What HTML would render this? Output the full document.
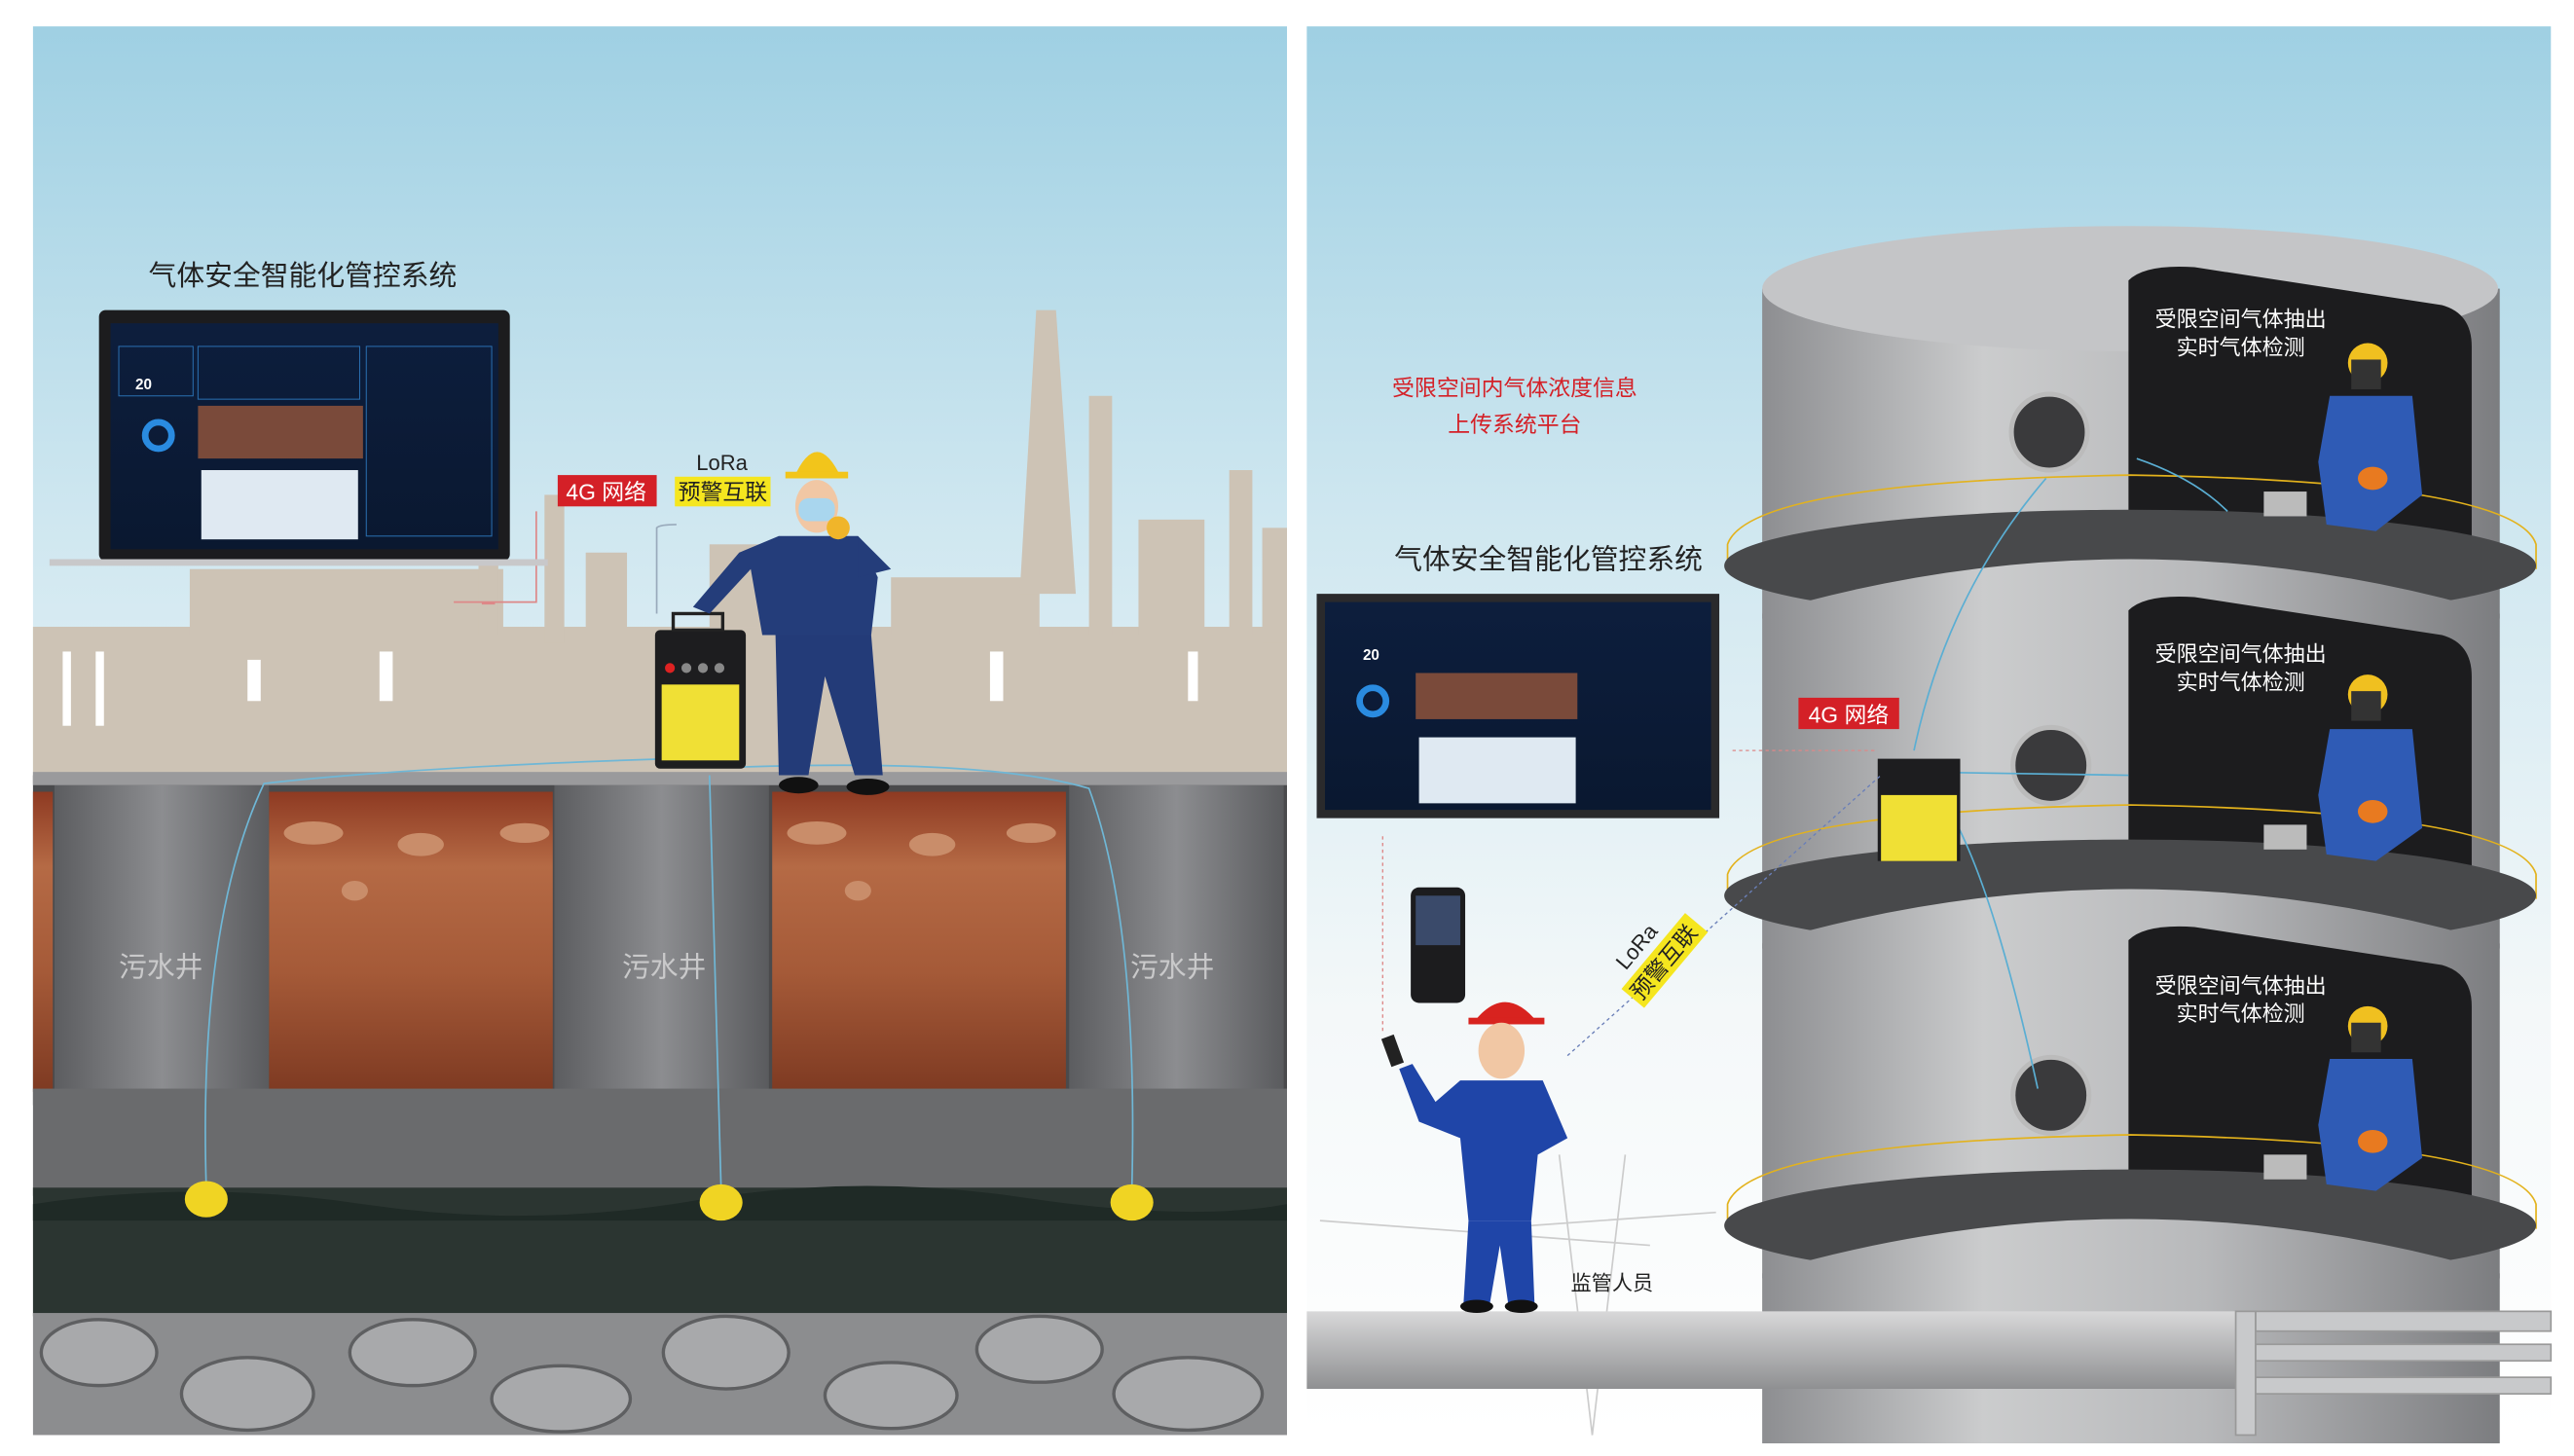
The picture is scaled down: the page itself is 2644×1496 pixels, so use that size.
<!DOCTYPE html>
<html><head><meta charset="utf-8"><style>html,body{margin:0;padding:0;background:#fff}svg{display:block}text{font-family:"Liberation Sans","Noto Sans CJK SC",sans-serif}</style></head>
<body>
<svg width="2644" height="1496" viewBox="0 0 1560 882.7" preserveAspectRatio="none" xmlns="http://www.w3.org/2000/svg">
<defs>
<linearGradient id="sky" x1="0" y1="0" x2="0" y2="1"><stop offset="0" stop-color="#9fd0e3"/><stop offset="0.35" stop-color="#cfe7f0"/><stop offset="0.7" stop-color="#f4f8f9"/><stop offset="1" stop-color="#fff"/></linearGradient>
<linearGradient id="soil" x1="0" y1="0" x2="0" y2="1"><stop offset="0" stop-color="#8e3a22"/><stop offset="0.25" stop-color="#b56a45"/><stop offset="0.6" stop-color="#a55a38"/><stop offset="1" stop-color="#7e3a22"/></linearGradient>
<linearGradient id="well" x1="0" y1="0" x2="1" y2="0"><stop offset="0" stop-color="#5c5d60"/><stop offset="0.5" stop-color="#8c8d90"/><stop offset="1" stop-color="#5a5b5e"/></linearGradient>
<linearGradient id="tower" x1="0" y1="0" x2="1" y2="0"><stop offset="0" stop-color="#8d8e91"/><stop offset="0.3" stop-color="#cbcccd"/><stop offset="0.6" stop-color="#b8b9bb"/><stop offset="1" stop-color="#7c7d80"/></linearGradient>
<linearGradient id="plat" x1="0" y1="0" x2="0" y2="1"><stop offset="0" stop-color="#d8d8d9"/><stop offset="1" stop-color="#8f9092"/></linearGradient>
<linearGradient id="scr" x1="0" y1="0" x2="0" y2="1"><stop offset="0" stop-color="#0d1e3d"/><stop offset="1" stop-color="#0a1830"/></linearGradient>
</defs>
<rect width="1560" height="883" fill="#fff"/>
<!-- LEFT PANEL -->
<rect x="20" y="16" width="760" height="854" fill="url(#sky)"/>
<g fill="#cdc3b5">
<rect x="20" y="380" width="760" height="95"/>
<rect x="115" y="345" width="190" height="40"/>
<rect x="330" y="300" width="12" height="90"/><rect x="355" y="335" width="25" height="50"/>
<rect x="430" y="330" width="70" height="50"/><rect x="540" y="350" width="90" height="35"/>
<polygon points="618,360 628,188 640,188 652,360"/>
<rect x="660" y="240" width="14" height="145"/><rect x="690" y="315" width="40" height="70"/>
<rect x="745" y="285" width="14" height="100"/><rect x="765" y="320" width="15" height="70"/>
<rect x="290" y="285" width="12" height="100"/>
</g>
<g fill="#fff"><rect x="38" y="395" width="5" height="45"/><rect x="58" y="395" width="5" height="45"/><rect x="150" y="400" width="8" height="25"/><rect x="230" y="395" width="8" height="30"/><rect x="600" y="395" width="8" height="30"/><rect x="720" y="395" width="6" height="30"/></g>
<rect x="20" y="470" width="760" height="200" fill="#4a4a4c"/>
<rect x="163" y="480" width="172" height="182" fill="url(#soil)"/>
<rect x="468" y="480" width="178" height="182" fill="url(#soil)"/>
<rect x="20" y="480" width="12" height="182" fill="url(#soil)"/>
<rect x="33" y="476" width="130" height="200" fill="url(#well)"/>
<rect x="336" y="476" width="130" height="200" fill="url(#well)"/>
<rect x="648" y="476" width="130" height="200" fill="url(#well)"/>
<rect x="20" y="468" width="760" height="8" fill="#9a9a9c"/>
<g fill="#c98d6a"><ellipse cx="190" cy="505" rx="18" ry="7"/><ellipse cx="255" cy="512" rx="14" ry="7"/><ellipse cx="318" cy="505" rx="15" ry="6"/><ellipse cx="495" cy="505" rx="18" ry="7"/><ellipse cx="565" cy="512" rx="14" ry="7"/><ellipse cx="625" cy="505" rx="15" ry="6"/><ellipse cx="215" cy="540" rx="8" ry="6"/><ellipse cx="520" cy="540" rx="8" ry="6"/></g>
<rect x="20" y="660" width="760" height="65" fill="#6a6b6d"/>
<rect x="20" y="720" width="760" height="78" fill="#2b3531"/>
<path d="M20 730 Q120 715 220 730 T420 728 T620 726 T780 730 L780 740 L20 740Z" fill="#1f2a26"/>
<rect x="20" y="796" width="760" height="74" fill="#8c8d8f"/>
<g fill="#a8a9ab" stroke="#5e5f61" stroke-width="2"><ellipse cx="60" cy="820" rx="35" ry="20"/><ellipse cx="150" cy="845" rx="40" ry="22"/><ellipse cx="250" cy="820" rx="38" ry="20"/><ellipse cx="340" cy="848" rx="42" ry="20"/><ellipse cx="440" cy="820" rx="38" ry="22"/><ellipse cx="540" cy="846" rx="40" ry="20"/><ellipse cx="630" cy="818" rx="38" ry="20"/><ellipse cx="720" cy="845" rx="45" ry="22"/></g>
<g fill="#c9c9ca" font-size="17"><text x="72" y="592">污水井</text><text x="377" y="592">污水井</text><text x="685" y="592">污水井</text></g>
<g fill="none" stroke="#6fb7d6" stroke-width="1"><path d="M405 460 Q250 465 160 475 Q120 560 125 720"/><path d="M430 470 L437 720"/><path d="M450 465 Q600 460 660 478 Q690 560 686 720"/><path d="M275 365 L325 365 L325 310 M300 366 L292 366" stroke="#d88"/><path d="M398 372 L398 320 Q400 318 410 318" stroke="#9ab"/></g>
<g fill="#f0d423"><ellipse cx="125" cy="727" rx="13" ry="11"/><ellipse cx="437" cy="729" rx="13" ry="11"/><ellipse cx="686" cy="729" rx="13" ry="11"/></g>
<rect x="60" y="188" width="249" height="152" rx="4" fill="#1c1c1e"/>
<rect x="67" y="196" width="235" height="137" fill="url(#scr)"/>
<rect x="30" y="339" width="302" height="4" fill="#c8c8ca"/>
<text x="82" y="236" font-size="9" fill="#fff" font-weight="bold">20</text>
<circle cx="96" cy="264" r="8" fill="none" stroke="#2a8be0" stroke-width="4"/>
<rect x="120" y="246" width="100" height="32" fill="#7a4a3a"/>
<rect x="122" y="285" width="95" height="42" fill="#dfe9f2"/>
<g stroke="#2a6fb0" stroke-width="0.6" fill="none"><rect x="72" y="210" width="45" height="30"/><rect x="120" y="210" width="98" height="32"/><rect x="222" y="210" width="76" height="115"/></g>
<text x="90" y="173" font-size="17" fill="#222">气体安全智能化管控系统</text>
<rect x="338" y="288" width="60" height="19" fill="#d42027"/><text x="343" y="303" font-size="13.5" fill="#fff">4G 网络</text>
<text x="422" y="285" font-size="13" fill="#222">LoRa</text>
<rect x="409" y="289" width="58" height="18" fill="#f5e61f"/><text x="411" y="303" font-size="13.5" fill="#222">预警互联</text>
<rect x="397" y="382" width="55" height="84" rx="3" fill="#1d1d1f"/><rect x="401" y="415" width="47" height="46" fill="#f0e035"/>
<rect x="408" y="372" width="30" height="10" fill="none" stroke="#222" stroke-width="2"/>
<circle cx="406" cy="405" r="3" fill="#d22"/><circle cx="416" cy="405" r="3" fill="#888"/><circle cx="426" cy="405" r="3" fill="#888"/><circle cx="436" cy="405" r="3" fill="#888"/>
<path d="M481 290 Q495 258 510 290Z" fill="#f2c51b"/><rect x="476" y="286" width="38" height="4" fill="#f2c51b"/>
<ellipse cx="495" cy="307" rx="13" ry="16" fill="#f1c7a4"/><rect x="484" y="302" width="22" height="14" rx="6" fill="#a9d6ee"/>
<path d="M472 325 L520 325 L532 350 L528 385 L462 385 L455 345 L430 372 L420 368 L448 335Z" fill="#243d7a"/>
<path d="M520 325 L540 345 L520 350Z" fill="#243d7a"/><circle cx="508" cy="320" r="7" fill="#f0b52a"/>
<path d="M470 385 L528 385 L535 470 L518 470 L500 410 L490 470 L472 470Z" fill="#233b78"/>
<ellipse cx="484" cy="476" rx="12" ry="5" fill="#111"/><ellipse cx="526" cy="477" rx="13" ry="5" fill="#111"/>
<!-- RIGHT PANEL -->
<rect x="792" y="16" width="754" height="854" fill="url(#sky)"/>
<g stroke="#ccc" stroke-width="1" fill="none"><path d="M945 700 L965 870 M985 700 L965 870 M900 745 L1040 735 M800 740 L1000 755"/></g>
<!-- tier 1 -->
<rect x="1068" y="175" width="447" height="200" fill="url(#tower)"/>
<ellipse cx="1291" cy="175" rx="223" ry="38" fill="#c4c5c7"/>
<path d="M1290 170 Q1300 160 1330 162 L1480 185 Q1498 190 1498 210 L1498 345 L1290 345Z" fill="#1c1c1e"/>
<circle cx="1242" cy="262" r="23" fill="#3a3a3c" stroke="#bbb" stroke-width="3"/>
<g fill="none" stroke="#e3b21c" stroke-width="1"><path d="M1047 345 L1047 330 Q1060 292 1291 288 Q1525 292 1537 330 L1537 345"/></g>
<ellipse cx="1291" cy="343" rx="246" ry="34" fill="#48494b"/>
<!-- tier 2 -->
<path d="M1068 372 Q1291 306 1515 372 L1515 575 L1068 575Z" fill="url(#tower)"/>
<path d="M1290 370 Q1300 360 1330 362 L1480 385 Q1498 390 1498 410 L1498 545 L1290 545Z" fill="#1c1c1e"/>
<circle cx="1243" cy="464" r="23" fill="#3a3a3c" stroke="#bbb" stroke-width="3"/>
<g fill="none" stroke="#e3b21c" stroke-width="1"><path d="M1047 545 L1047 530 Q1060 492 1291 488 Q1525 492 1537 530 L1537 545"/></g>
<ellipse cx="1291" cy="543" rx="246" ry="34" fill="#48494b"/>
<!-- tier 3 -->
<path d="M1068 572 Q1291 506 1515 572 L1515 775 L1068 775Z" fill="url(#tower)"/>
<path d="M1290 570 Q1300 560 1330 562 L1480 585 Q1498 590 1498 610 L1498 745 L1290 745Z" fill="#1c1c1e"/>
<circle cx="1243" cy="664" r="23" fill="#3a3a3c" stroke="#bbb" stroke-width="3"/>
<g fill="none" stroke="#e3b21c" stroke-width="1"><path d="M1047 745 L1047 730 Q1060 692 1291 688 Q1525 692 1537 730 L1537 745"/></g>
<ellipse cx="1291" cy="743" rx="246" ry="34" fill="#48494b"/>
<!-- tier 4 -->
<path d="M1068 772 Q1291 706 1515 772 L1515 875 L1068 875Z" fill="url(#tower)"/>
<!-- texts & welders -->
<g font-size="13" fill="#fff" text-anchor="middle">
<text x="1358" y="198">受限空间气体抽出</text><text x="1358" y="215">实时气体检测</text>
<text x="1358" y="401">受限空间气体抽出</text><text x="1358" y="418">实时气体检测</text>
<text x="1358" y="602">受限空间气体抽出</text><text x="1358" y="619">实时气体检测</text>
</g>
<g fill="#2f5bb5"><path d="M1412 240 L1462 240 L1468 300 L1440 322 L1410 318 L1405 280Z"/><path d="M1412 442 L1462 442 L1468 502 L1440 522 L1410 518 L1405 482Z"/><path d="M1412 642 L1462 642 L1468 702 L1440 722 L1410 718 L1405 682Z"/></g>
<g fill="#e87a20"><ellipse cx="1438" cy="290" rx="9" ry="7"/><ellipse cx="1438" cy="492" rx="9" ry="7"/><ellipse cx="1438" cy="692" rx="9" ry="7"/></g>
<g fill="#f0c020"><circle cx="1435" cy="220" r="12"/><circle cx="1435" cy="421" r="12"/><circle cx="1435" cy="622" r="12"/></g>
<g fill="#333"><rect x="1425" y="218" width="18" height="18"/><rect x="1425" y="419" width="18" height="18"/><rect x="1425" y="620" width="18" height="18"/></g>
<g fill="#bbb"><rect x="1372" y="298" width="26" height="15"/><rect x="1372" y="500" width="26" height="15"/><rect x="1372" y="700" width="26" height="15"/></g>
<g fill="none" stroke="#5aaed3" stroke-width="1"><path d="M1160 455 Q1180 360 1240 290"/><path d="M1165 470 Q1200 500 1235 660"/><path d="M1160 468 L1290 470"/><path d="M1295 278 Q1330 290 1350 310"/></g>
<rect x="792" y="795" width="575" height="47" fill="url(#plat)"/>
<g fill="#c8c9cb" stroke="#999"><rect x="1367" y="795" width="179" height="12"/><rect x="1367" y="815" width="179" height="10"/><rect x="1367" y="835" width="179" height="10"/><rect x="1355" y="795" width="12" height="75"/></g>
<rect x="1138" y="460" width="50" height="62" fill="#1d1d1f"/><rect x="1140" y="482" width="46" height="40" fill="#f0e035"/>
<rect x="798" y="360" width="244" height="136" fill="#2a2a2c"/>
<rect x="803" y="365" width="234" height="126" fill="url(#scr)"/>
<text x="826" y="400" font-size="9" fill="#fff" font-weight="bold">20</text>
<circle cx="832" cy="425" r="8" fill="none" stroke="#2a8be0" stroke-width="4"/>
<rect x="858" y="408" width="98" height="28" fill="#7a4a3a"/>
<rect x="860" y="447" width="95" height="40" fill="#dfe9f2"/>
<text x="845" y="345" font-size="17" fill="#222">气体安全智能化管控系统</text>
<g font-size="13.5" fill="#d42027" text-anchor="middle"><text x="918" y="240">受限空间内气体浓度信息</text><text x="918" y="262">上传系统平台</text></g>
<rect x="1090" y="423" width="61" height="19" fill="#d42027"/><text x="1096" y="438" font-size="13.5" fill="#fff">4G 网络</text>
<g fill="none" stroke="#d88" stroke-width="0.8" stroke-dasharray="2 2"><path d="M1136 455 L1048 455"/><path d="M838 625 L838 505"/></g>
<path d="M950 640 L1140 470" fill="none" stroke="#6a7fb8" stroke-width="0.8" stroke-dasharray="2 2"/>
<g transform="translate(1003,580) rotate(-50)"><text x="-18" y="-8" font-size="13" fill="#222">LoRa</text><rect x="-28" y="-3" width="60" height="18" fill="#f5e61f"/><text x="-26" y="11" font-size="13.5" fill="#222">预警互联</text></g>
<rect x="855" y="538" width="33" height="70" rx="5" fill="#1c1c1e"/><rect x="858" y="543" width="27" height="30" fill="#3a4a6a"/>
<path d="M893 620 Q912 595 932 620Z" fill="#d8231f"/><rect x="890" y="617" width="46" height="4" fill="#d8231f"/>
<ellipse cx="910" cy="637" rx="14" ry="17" fill="#f1c7a4"/>
<path d="M885 655 L935 655 L950 690 L932 700 L928 740 L890 740 L885 690 L860 680 L848 648 L856 645 L870 668Z" fill="#1f45a8"/>
<path d="M890 740 L928 740 L930 790 L914 790 L909 755 L903 790 L887 790Z" fill="#1f45a8"/>
<ellipse cx="895" cy="792" rx="10" ry="4" fill="#111"/><ellipse cx="922" cy="792" rx="10" ry="4" fill="#111"/>
<rect x="840" y="628" width="8" height="18" fill="#222" transform="rotate(-20 844 637)"/>
<text x="952" y="782" font-size="12.5" fill="#222">监管人员</text>
</svg>
</body></html>
